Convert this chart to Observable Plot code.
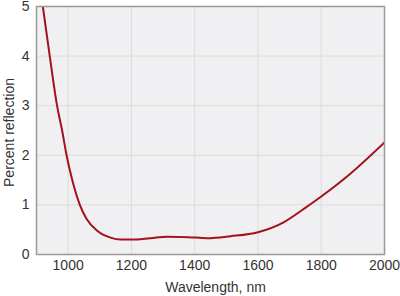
<!DOCTYPE html>
<html>
<head>
<meta charset="utf-8">
<script src="https://cdn.jsdelivr.net/npm/d3@7"></script>
<script src="https://cdn.jsdelivr.net/npm/@observablehq/plot@0.6"></script>
<style>
  html, body { margin: 0; padding: 0; background: #fff; }
  #chart svg { display: block; }
</style>
</head>
<body>
<div id="chart"></div>
<script>
const wavelength = [920, 943, 965, 981, 995, 1013, 1037, 1058, 1092, 1134, 1165, 1200, 1260, 1313, 1380, 1440, 1513, 1600, 1681, 1745, 1800, 1892, 2000];
const reflection = [5.0, 3.95, 3.0, 2.5, 2.0, 1.5, 1.0, 0.72, 0.48, 0.34, 0.30, 0.30, 0.33, 0.36, 0.35, 0.33, 0.37, 0.45, 0.65, 0.92, 1.17, 1.63, 2.26];
const xTicks = [1000, 1200, 1400, 1600, 1800, 2000];
const yTicks = [0, 1, 2, 3, 4, 5];

const data = wavelength.map((w, i) => ({w, r: reflection[i]}));

const chart = Plot.plot({
  width: 400,
  height: 296,
  marginLeft: 36,
  marginRight: 16,
  marginTop: 6,
  marginBottom: 42,
  style: {fontFamily: "Liberation Sans, Arial, sans-serif", fontSize: "14px", color: "#333", background: "#fff", overflow: "visible"},
  x: {domain: [900, 2000], label: null},
  y: {domain: [0, 5], label: null},
  marks: [
    Plot.frame({fill: "#f0f0f2"}),
    Plot.gridX(xTicks, {stroke: "#dcdcdc", strokeOpacity: 1, strokeWidth: 1}),
    Plot.gridY(yTicks, {stroke: "#dcdcdc", strokeOpacity: 1, strokeWidth: 1}),
    Plot.line(data, {x: "w", y: "r", stroke: "#a3101e", strokeWidth: 2, curve: "monotone-x", clip: true}),
    Plot.frame({stroke: "#999", strokeWidth: 1.5}),
    Plot.axisX(xTicks, {tickSize: 0, tickPadding: 6, fontSize: 14, fill: "#333", label: null, tickFormat: d => String(d)}),
    Plot.axisY(yTicks, {tickSize: 0, tickPadding: 7, fontSize: 14, fill: "#333", label: null, tickFormat: d => String(d)}),
    Plot.text(["Wavelength, nm"], {frameAnchor: "bottom", lineAnchor: "middle", textAnchor: "middle", dy: 33, dx: 5, fontSize: 14, fill: "#333"}),
    Plot.text(["Percent reflection"], {frameAnchor: "left", lineAnchor: "middle", textAnchor: "middle", rotate: -90, dx: -27, dy: 2, fontSize: 14, fill: "#333"})
  ]
});
document.getElementById("chart").appendChild(chart);
</script>
</body>
</html>
